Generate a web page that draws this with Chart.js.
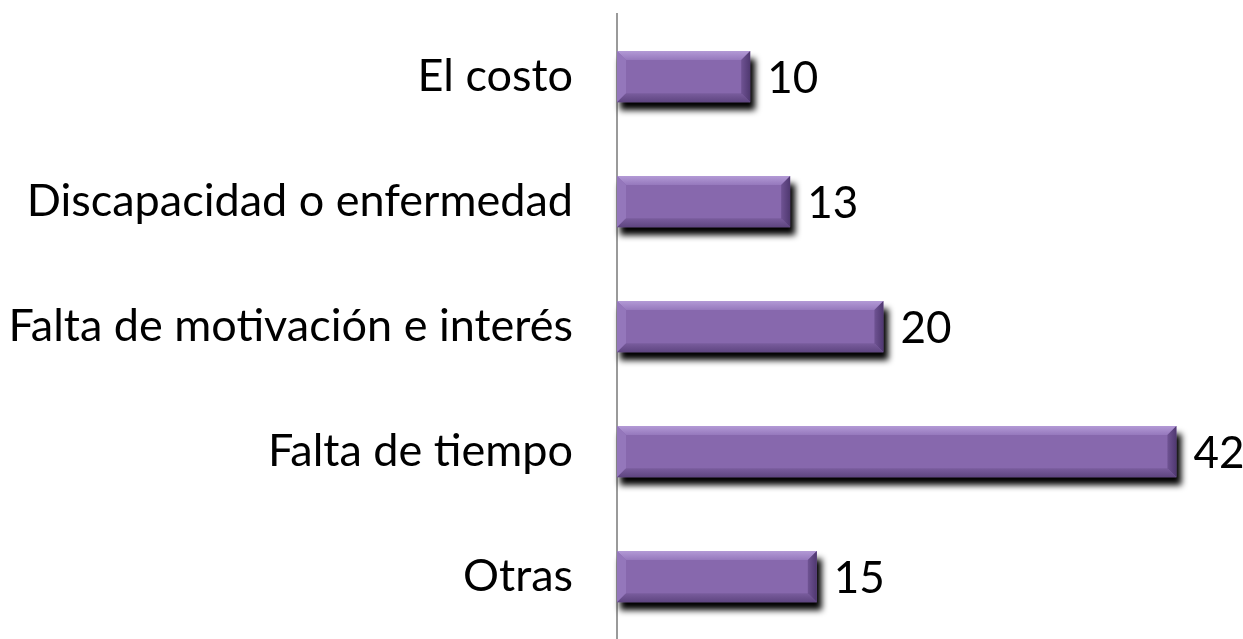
<!DOCTYPE html>
<html>
<head>
<meta charset="utf-8">
<script src="https://cdn.jsdelivr.net/npm/chart.js@4/dist/chart.umd.min.js"></script>
<style>
  html, body { margin: 0; padding: 0; background: #fff; }
  #wrap { width: 1243px; height: 639px; }
</style>
</head>
<body>
<div id="wrap"><canvas id="chart"></canvas></div>
<script>
// Datos del gráfico
const categorias = ['El costo', 'Discapacidad o enfermedad', 'Falta de motivación e interés', 'Falta de tiempo', 'Otras'];
const valores = [10, 13, 20, 42, 15];

const FUENTE = 'Lato, "Open Sans", sans-serif';

// Sombra detrás de las barras, biselado y etiquetas de valor
const sombraBarras = {
    id: 'sombraBarras',
    beforeDatasetsDraw(chart) {
        const ctx = chart.ctx;
        const meta = chart.getDatasetMeta(0);
        ctx.save();
        ctx.filter = 'blur(3px)';
        ctx.fillStyle = '#000';
        meta.data.forEach(bar => {
            const top = bar.y - bar.height / 2;
            ctx.fillRect(bar.base + 3, top + 8, bar.x - bar.base + 2, bar.height);
        });
        ctx.restore();
    },
    afterDatasetsDraw(chart) {
        const ctx = chart.ctx;
        const meta = chart.getDatasetMeta(0);
        meta.data.forEach((bar, i) => {
            const left = bar.base;
            const right = bar.x;
            const top = bar.y - bar.height / 2;
            const bottom = bar.y + bar.height / 2;
            const b = 9;

            ctx.save();
            // borde superior claro
            let g = ctx.createLinearGradient(0, top, 0, top + b);
            g.addColorStop(0, '#b39ad6');
            g.addColorStop(1, '#9679bd');
            ctx.fillStyle = g;
            ctx.beginPath();
            ctx.moveTo(left, top);
            ctx.lineTo(right, top);
            ctx.lineTo(right - b, top + b);
            ctx.lineTo(left + b, top + b);
            ctx.closePath();
            ctx.fill();
            // borde izquierdo
            ctx.fillStyle = '#9477bb';
            ctx.beginPath();
            ctx.moveTo(left, top);
            ctx.lineTo(left + b, top + b);
            ctx.lineTo(left + b, bottom - b);
            ctx.lineTo(left, bottom);
            ctx.closePath();
            ctx.fill();
            // borde inferior oscuro
            g = ctx.createLinearGradient(0, bottom - b, 0, bottom);
            g.addColorStop(0, '#7a5d9e');
            g.addColorStop(1, '#5e4580');
            ctx.fillStyle = g;
            ctx.beginPath();
            ctx.moveTo(left, bottom);
            ctx.lineTo(right, bottom);
            ctx.lineTo(right - b, bottom - b);
            ctx.lineTo(left + b, bottom - b);
            ctx.closePath();
            ctx.fill();
            // borde derecho
            g = ctx.createLinearGradient(right - b, 0, right, 0);
            g.addColorStop(0, '#6f5393');
            g.addColorStop(1, '#4f3870');
            ctx.fillStyle = g;
            ctx.beginPath();
            ctx.moveTo(right, top);
            ctx.lineTo(right, bottom);
            ctx.lineTo(right - b, bottom - b);
            ctx.lineTo(right - b, top + b);
            ctx.closePath();
            ctx.fill();

            ctx.fillStyle = '#000';
            ctx.font = '44px ' + FUENTE;
            ctx.textAlign = 'left';
            ctx.textBaseline = 'middle';
            ctx.fillText(String(valores[i]), right + 17, bar.y + 2);
            ctx.restore();
        });
    }
};

new Chart(document.getElementById('chart'), {
    type: 'bar',
    data: {
        labels: categorias,
        datasets: [{
            data: valores,
            backgroundColor: '#8768ad',
            borderWidth: 0,
            barPercentage: 0.41,
            categoryPercentage: 1
        }]
    },
    options: {
        indexAxis: 'y',
        responsive: true,
        maintainAspectRatio: false,
        animation: false,
        layout: { padding: { top: 14, bottom: 0, left: 0, right: 0 } },
        plugins: {
            legend: { display: false },
            tooltip: { enabled: false }
        },
        scales: {
            x: {
                display: false,
                min: 0,
                max: 47
            },
            y: {
                grid: { display: false, drawTicks: false },
                border: { display: true, color: '#9a9a9a', width: 2 },
                ticks: {
                    color: '#000',
                    padding: 44,
                    font: { family: FUENTE, size: 45 }
                },
                afterFit(scale) {
                    // eje en x=617 y sin relleno vertical extra
                    scale.width = 617;
                    scale.paddingTop = 0;
                    scale.paddingBottom = 0;
                }
            }
        }
    },
    plugins: [sombraBarras]
});
</script>
</body>
</html>
